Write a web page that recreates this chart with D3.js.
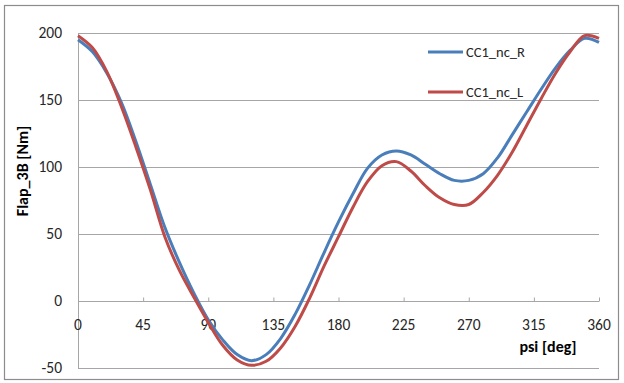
<!DOCTYPE html>
<html>
<head>
<meta charset="utf-8">
<script src="https://cdn.jsdelivr.net/npm/d3@7"></script>
<style>
  html, body { margin: 0; padding: 0; background: #fff; }
  svg { display: block; font-family: Carlito, Lato, "Liberation Sans", sans-serif; }
</style>
</head>
<body>
<svg id="chart" width="624" height="383"></svg>
<script>
// Azimuth angle psi [deg], sampled every 10 degrees
const psi = [0, 10, 20, 30, 40, 50, 60, 70, 80, 90, 100, 110, 120, 130, 140, 150, 160, 170, 180,
             190, 200, 210, 220, 230, 240, 250, 260, 270, 280, 290, 300, 310, 320, 330, 340, 350, 360];

// Flap bending moment, right and left blade [Nm]
const flapR = [195, 186, 170, 148, 119, 87, 55, 29, 6, -14, -29, -40, -44.5, -40, -28, -10, 12, 36, 59,
               80, 99, 109, 112, 109, 102, 95, 90, 90, 95, 107, 124, 141, 158, 174, 187, 196, 193];
const flapL = [198, 189, 171, 145, 115, 83, 48, 23, 3, -16, -33, -44, -48, -45, -35, -19, 2, 26, 48,
               70, 89, 101, 104, 97, 86, 77, 72, 72, 81, 94, 111, 131, 151, 170, 186, 198, 196];

const seriesNames = ["CC1_nc_R", "CC1_nc_L"];
const seriesColors = ["#4A7EBB", "#BE4B48"];

const xTicks = [0, 45, 90, 135, 180, 225, 270, 315, 360];
const yTicks = [-50, 0, 50, 100, 150, 200];

const svg = d3.select("#chart");

// outer frame
svg.append("rect")
  .attr("x", 4.5).attr("y", 5.5).attr("width", 614).attr("height", 374)
  .attr("fill", "#fff").attr("stroke", "#8c8c8c").attr("stroke-width", 1.2);

const x = d3.scaleLinear().domain([0, 360]).range([78, 599]);
const y = d3.scaleLinear().domain([-50, 200]).range([368, 33]);

// horizontal gridlines
svg.append("g")
  .selectAll("line")
  .data(yTicks)
  .join("line")
  .attr("x1", x(0)).attr("x2", x(360))
  .attr("y1", d => Math.round(y(d)) + 0.5).attr("y2", d => Math.round(y(d)) + 0.5)
  .attr("stroke", "#a6a6a6").attr("stroke-width", 1);

// y axis line
svg.append("line")
  .attr("x1", x(0) + 0.5).attr("x2", x(0) + 0.5)
  .attr("y1", y(200)).attr("y2", y(-50))
  .attr("stroke", "#a6a6a6");

// y tick labels
svg.append("g")
  .selectAll("text")
  .data(yTicks)
  .join("text")
  .attr("x", 62).attr("y", d => y(d))
  .attr("dy", "0.35em")
  .attr("text-anchor", "end")
  .attr("font-size", 15.5)
  .attr("fill", "#262626")
  .text(d => d);

// x axis at zero, tick marks pointing up
const xAxis = d3.axisTop(x).tickValues(xTicks).tickSize(4).tickFormat("");
const gx = svg.append("g")
  .attr("transform", `translate(0,${Math.round(y(0)) + 0.5})`)
  .call(xAxis);
gx.select(".domain").remove();
gx.selectAll(".tick line").attr("stroke", "#a6a6a6");

// x tick labels below the zero line
svg.append("g")
  .selectAll("text")
  .data(xTicks)
  .join("text")
  .attr("x", d => x(d)).attr("y", 325)
  .attr("dy", "0.35em")
  .attr("text-anchor", "middle")
  .attr("font-size", 15.5)
  .attr("fill", "#262626")
  .text(d => d);

// axis titles
svg.append("text")
  .attr("x", 548).attr("y", 346).attr("dy", "0.35em")
  .attr("text-anchor", "middle")
  .attr("font-size", 16).attr("font-weight", "bold")
  .attr("fill", "#000")
  .text("psi [deg]");

svg.append("text")
  .attr("transform", "translate(22,171) rotate(-90)")
  .attr("dy", "0.35em")
  .attr("text-anchor", "middle")
  .attr("font-size", 16).attr("font-weight", "bold")
  .attr("fill", "#000")
  .text("Flap_3B [Nm]");

// curves
const line = d3.line()
  .x(d => x(d[0])).y(d => y(d[1]))
  .curve(d3.curveCatmullRom.alpha(0.5));

const series = [
  d3.zip(psi, flapR),
  d3.zip(psi, flapL)
];

svg.append("g")
  .selectAll("path")
  .data(series)
  .join("path")
  .attr("d", d => line(d))
  .attr("fill", "none")
  .attr("stroke", (d, i) => seriesColors[i])
  .attr("stroke-width", 3)
  .attr("stroke-linejoin", "round");

// legend
const legend = svg.append("g")
  .selectAll("g")
  .data(seriesNames)
  .join("g")
  .attr("transform", (d, i) => `translate(428,${52 + i * 40})`);

legend.append("line")
  .attr("x1", 0).attr("x2", 35)
  .attr("stroke", (d, i) => seriesColors[i])
  .attr("stroke-width", 3);

legend.append("text")
  .attr("x", 38).attr("dy", "0.35em")
  .attr("font-size", 14.5)
  .attr("fill", "#262626")
  .text(d => d);
</script>
</body>
</html>
